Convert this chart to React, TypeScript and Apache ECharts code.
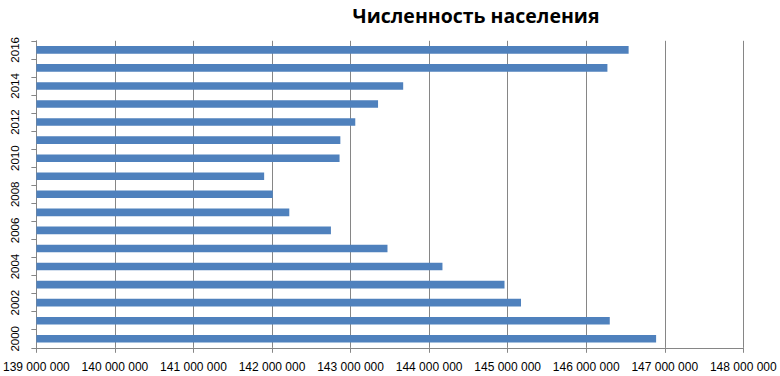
import React, { useEffect, useRef } from "react";
import * as echarts from "echarts";

const years = ["2000","2001","2002","2003","2004","2005","2006","2007","2008","2009","2010","2011","2012","2013","2014","2015","2016"];
const population = [146890000,146300000,145170000,144960000,144170000,143470000,142750000,142220000,142010000,141900000,142860000,142870000,143060000,143350000,143670000,146270000,146540000];
const xMin = 139000000;
const xMax = 148000000;
const xStep = 1000000;
const title = "Численность населения";

function fmt(v: number): string {
  return String(Math.round(v)).replace(/\B(?=(\d{3})+(?!\d))/g, " ");
}

export default function App() {
  const ref = useRef<HTMLDivElement>(null);
  useEffect(() => {
    if (!ref.current) return;
    const chart = echarts.init(ref.current, null, { renderer: "svg" });
    chart.setOption({
      animation: false,
      textStyle: { fontFamily: "Liberation Sans" },
      title: {
        text: title,
        left: 471,
        top: 0,
        textAlign: "center",
        textStyle: { fontSize: 19.5, fontWeight: "bold", color: "#000", fontFamily: "Open Sans" },
      },
      grid: { left: 35, right: 36.7, top: 40.8, bottom: 28.2, containLabel: false },
      xAxis: {
        type: "value",
        min: xMin,
        max: xMax,
        interval: xStep,
        axisLine: { show: true, lineStyle: { color: "#868686", width: 1 } },
        axisTick: { show: true, length: 5, lineStyle: { color: "#868686" } },
        splitLine: { show: true, lineStyle: { color: "#868686", width: 1 } },
        axisLabel: { formatter: (v: number) => fmt(v), fontSize: 12, color: "#000", margin: 13, fontFamily: "Liberation Sans" },
      },
      yAxis: {
        type: "category",
        data: years,
        axisLine: { show: true, lineStyle: { color: "#868686", width: 1 } },
        axisTick: { show: true, length: 5, interval: 0, lineStyle: { color: "#868686" } },
        axisLabel: { interval: 1, rotate: 90, fontSize: 11.5, color: "#000", margin: 15, fontFamily: "Liberation Sans" },
        splitLine: { show: false },
      },
      series: [
        {
          type: "bar",
          data: population,
          barWidth: 7.6,
          itemStyle: { color: "#4F81BD" },
        },
      ],
    });
    return () => chart.dispose();
  }, []);
  return <div ref={ref} style={{ width: 780, height: 376, position: "absolute", left: 0, top: 0 }} />;
}
